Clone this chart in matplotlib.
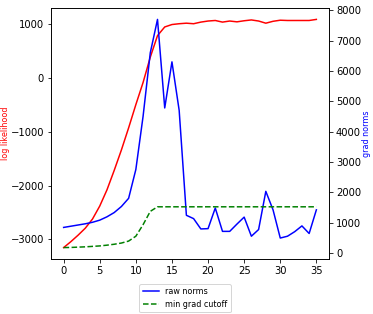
import matplotlib
matplotlib.use('Agg')
import matplotlib.pyplot as plt
import numpy as np

# epochs
epochs = np.arange(36)

# log likelihood (left axis)
log_likelihood = [-3150, -3040, -2920, -2790, -2620, -2380, -2080, -1720, -1340, -930,
                  -500, -90, 380, 780, 940, 985, 1000, 1010, 1000, 1030,
                  1050, 1060, 1030, 1050, 1035, 1055, 1070, 1050, 1010, 1045,
                  1065, 1060, 1060, 1060, 1060, 1080]

# gradient norms (right axis)
raw_norms = [840, 880, 920, 960, 1010, 1080, 1190, 1330, 1530, 1800,
             2750, 4500, 6600, 7700, 4780, 6300, 4700, 1240, 1130, 790,
             800, 1480, 710, 710, 950, 1180, 550, 770, 2030, 1420,
             490, 550, 700, 890, 640, 1420]
min_grad_cutoff = [175, 180, 190, 200, 215, 230, 255, 285, 325, 390,
                   550, 930, 1370, 1520, 1520, 1520, 1520, 1520, 1520, 1520,
                   1520, 1520, 1520, 1520, 1520, 1520, 1520, 1520, 1520, 1520,
                   1520, 1520, 1520, 1520, 1520, 1520]

fig = plt.figure(figsize=(373 / 72, 314 / 72), dpi=72)
ax1 = fig.add_axes([51 / 373, 55 / 314, 278 / 373, 251 / 314])
ax2 = ax1.twinx()

ax1.plot(epochs, log_likelihood, color='red')
ax1.set_ylabel('log likelihood', color='red', fontsize=8)
ax1.yaxis.set_label_coords(-0.148, 0.5)
ax1.set_xticks(range(0, 36, 5))

ax2.plot(epochs, raw_norms, color='blue', label='raw norms')
ax2.plot(epochs, min_grad_cutoff, color='green', linestyle='--', label='min grad cutoff')
ax2.set_ylabel('grad norms', color='blue', fontsize=8)
ax2.yaxis.set_label_coords(1.12, 0.5)
ax2.set_yticks(range(0, 8001, 1000))

fig.legend(loc='upper center', bbox_to_anchor=(0.496, (314 - 280) / 314),
           fontsize=8)

fig.savefig('out.png', dpi=72)
